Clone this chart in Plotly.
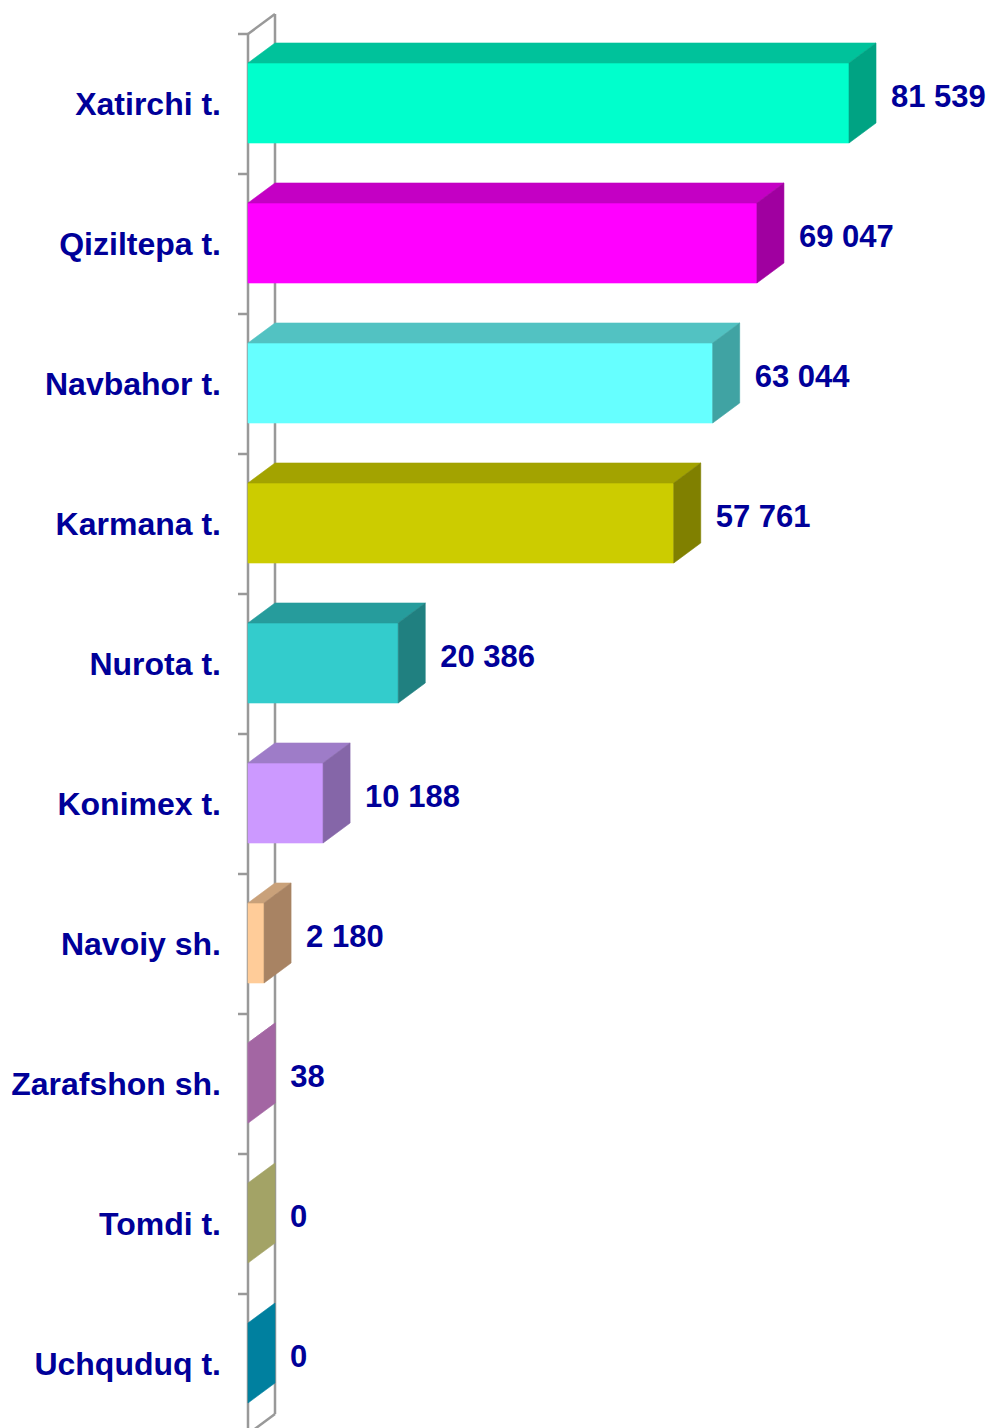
import plotly.graph_objects as go

# ---------------- data ----------------
categories = ["Xatirchi t.", "Qiziltepa t.", "Navbahor t.", "Karmana t.", "Nurota t.",
              "Konimex t.", "Navoiy sh.", "Zarafshon sh.", "Tomdi t.", "Uchquduq t."]
values = [81539, 69047, 63044, 57761, 20386, 10188, 2180, 38, 0, 0]

front_colors = ["#00FFCC", "#FF00FF", "#66FFFF", "#CCCC00", "#33CCCC",
                "#CC99FF", "#FFCC99", "#C080C0", "#C8C880", "#0099C0"]
top_colors = ["#00C29B", "#C400C4", "#52C2C2", "#A3A300", "#269C9C",
              "#9E7CC8", "#C9A17A", "#B070B0", "#B0B070", "#0088AA"]
side_colors = ["#00A383", "#A000A0", "#40A3A3", "#808000", "#208080",
               "#8566A8", "#A88363", "#A366A3", "#A3A366", "#00809F"]

# ---------------- geometry / style ----------------
W, H = 992, 1428
L_MARGIN = 236
ZERO_PX = 248            # pixel of value 0
FULL_PX = 601            # pixel length of the largest bar
BAND_PX = 140            # height of a category band
TOP_PX = 34              # pixel of the first band top
PX_X = FULL_PX / max(values)          # px per value unit
DEPTH_X = 27 / PX_X                   # depth offset in value units
DEPTH_Y = 20 / BAND_PX                # depth offset in band units
FACE_TOP = 29 / BAND_PX
FACE_BOT = 109 / BAND_PX
LABEL_Y = 65 / BAND_PX
LABEL_GAP = 15 / PX_X
TICK_LEN = 10 / PX_X

x_min = -(ZERO_PX - L_MARGIN) / PX_X
x_max = (W - ZERO_PX) / PX_X
y_top = -TOP_PX / BAND_PX
y_bot = (H - TOP_PX) / BAND_PX

n = len(categories)
text_color = "#000099"
wall_color = "#999999"
font_family = "Liberation Sans, Arial, sans-serif"

fig = go.Figure()

# wall (back plane and front line)
wall_x = [0, 0, None, DEPTH_X, DEPTH_X, None, 0, DEPTH_X, None, 0, DEPTH_X]
wall_y = [0, n, None, -DEPTH_Y, n - DEPTH_Y, None, 0, -DEPTH_Y, None, n, n - DEPTH_Y]
fig.add_trace(go.Scatter(x=wall_x, y=wall_y, mode="lines",
                         line=dict(color=wall_color, width=2.5),
                         hoverinfo="skip", showlegend=False))
# category tick marks
tx, ty = [], []
for i in range(n + 1):
    tx += [-TICK_LEN, 0, None]
    ty += [i, i, None]
fig.add_trace(go.Scatter(x=tx, y=ty, mode="lines",
                         line=dict(color=wall_color, width=2.5),
                         hoverinfo="skip", showlegend=False))

def poly(xs, ys, color):
    fig.add_trace(go.Scatter(x=xs + [xs[0]], y=ys + [ys[0]], mode="lines",
                             fill="toself", fillcolor=color,
                             line=dict(color=color, width=0.6),
                             hoverinfo="skip", showlegend=False))

for i, v in enumerate(values):
    ft = i + FACE_TOP
    fb = i + FACE_BOT
    if v > 0:
        # front face
        poly([0, v, v, 0], [ft, ft, fb, fb], front_colors[i])
        # top face
        poly([0, DEPTH_X, v + DEPTH_X, v], [ft, ft - DEPTH_Y, ft - DEPTH_Y, ft], top_colors[i])
    # side (end) face
    poly([v, v + DEPTH_X, v + DEPTH_X, v], [ft, ft - DEPTH_Y, fb - DEPTH_Y, fb], side_colors[i])

# value labels
labels = [f"{v:,}".replace(",", " ") for v in values]
fig.add_trace(go.Scatter(
    x=[v + DEPTH_X + LABEL_GAP for v in values],
    y=[i + LABEL_Y for i in range(n)],
    mode="text", text=labels, textposition="middle right",
    textfont=dict(family=font_family, size=31, color=text_color, weight="bold"),
    cliponaxis=False, hoverinfo="skip", showlegend=False))

fig.update_layout(
    width=W, height=H,
    margin=dict(l=L_MARGIN, r=0, t=0, b=0),
    paper_bgcolor="white", plot_bgcolor="white",
    hovermode=False,
    xaxis=dict(range=[x_min, x_max], visible=False, fixedrange=True),
    yaxis=dict(range=[y_bot, y_top], tickmode="array",
               tickvals=[i + 0.5 for i in range(n)], ticktext=categories,
               ticks="", showgrid=False, zeroline=False, showline=False,
               ticklabelstandoff=14,
               tickfont=dict(family=font_family, size=32, color=text_color, weight="bold"),
               fixedrange=True),
)

fig.write_html("out.html", config={"displayModeBar": False},
               post_script="document.body.style.margin='0';")
